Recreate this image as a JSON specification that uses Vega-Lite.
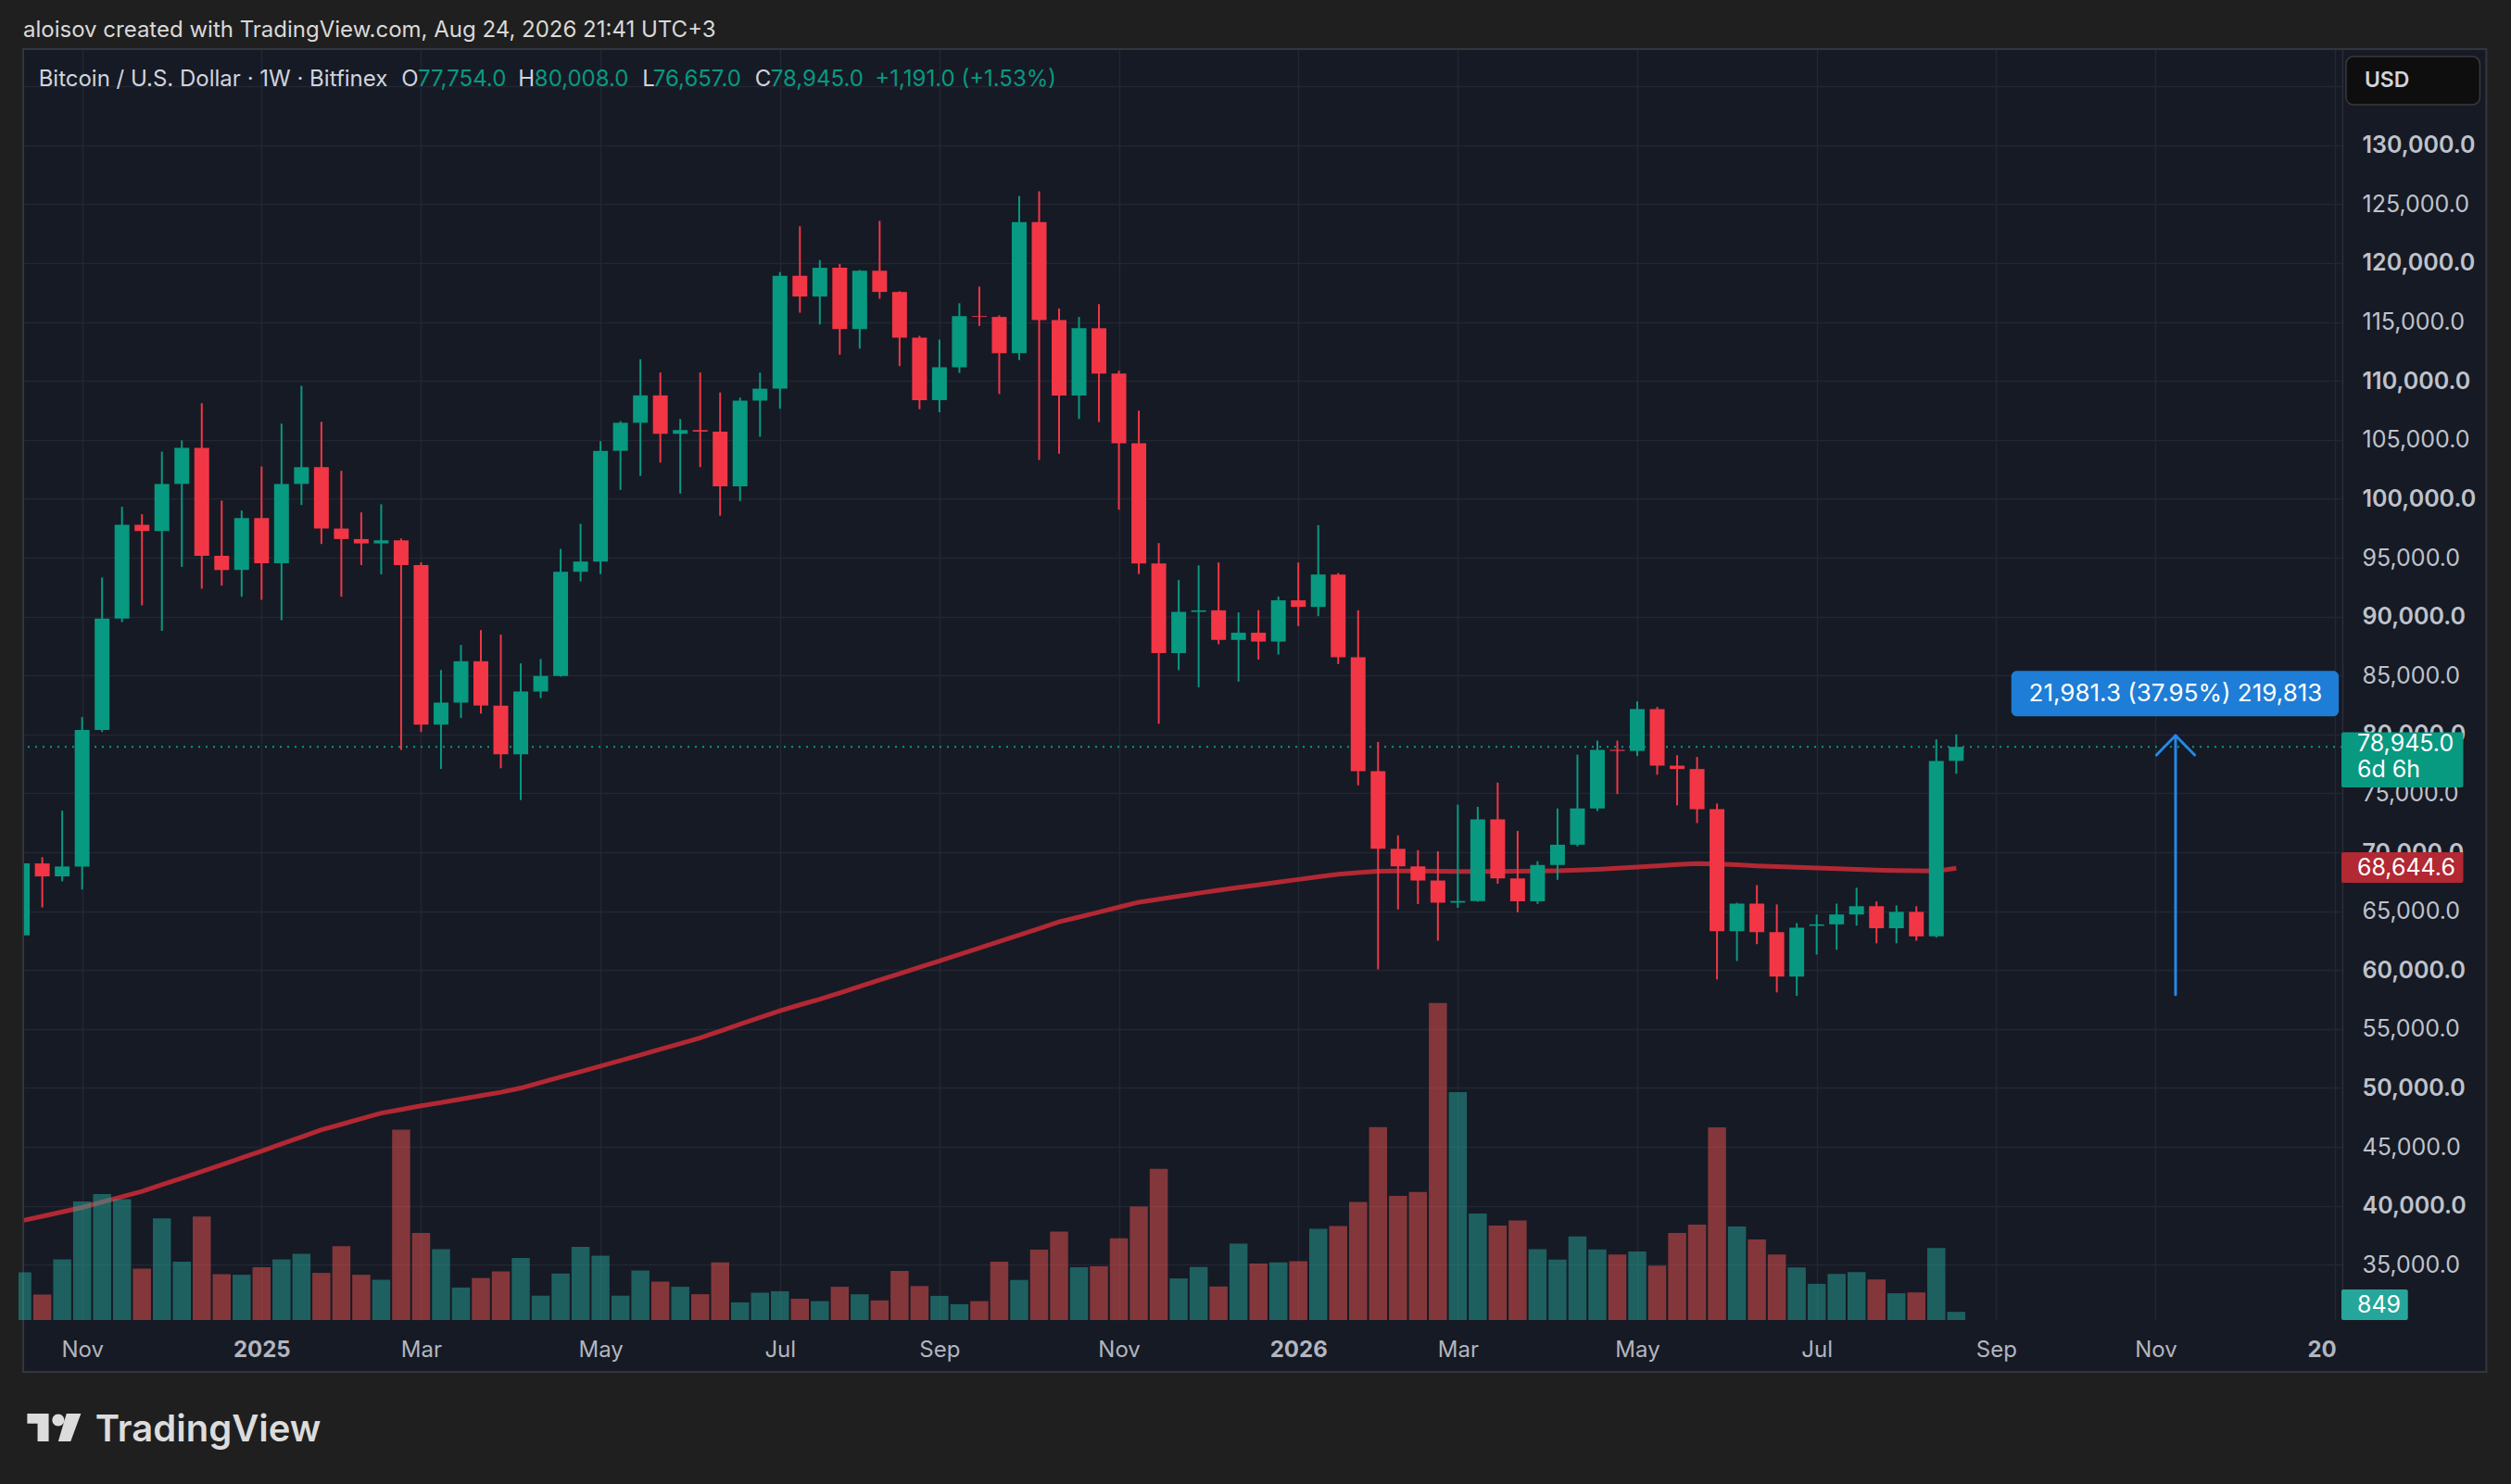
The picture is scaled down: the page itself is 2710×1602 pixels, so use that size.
{
  "$schema": "https://vega.github.io/schema/vega-lite/v6.json",
  "description": "BTC/USD weekly candles (Bitfinex) with volume and moving average, TradingView style",
  "width": 2508,
  "height": 1372,
  "autosize": {"type": "none"},
  "padding": {"left": 20, "top": 53, "right": 182, "bottom": 177},
  "background": "#161a25",
  "config": {"view": {"stroke": null}, "font": "Inter"},
  "datasets": {
    "candles": [
      {"d":"2024-10-14","o":62950,"h":69400,"l":62500,"c":69050,"v":4979,"ma":38740},
      {"d":"2024-10-21","o":69050,"h":69580,"l":65320,"c":67950,"v":2654,"ma":39110},
      {"d":"2024-10-28","o":67950,"h":73530,"l":67530,"c":68790,"v":6330,"ma":39480},
      {"d":"2024-11-04","o":68790,"h":81480,"l":66840,"c":80370,"v":12342,"ma":39850},
      {"d":"2024-11-11","o":80370,"h":93320,"l":80210,"c":89840,"v":13114,"ma":40310},
      {"d":"2024-11-18","o":89840,"h":99320,"l":89530,"c":97790,"v":12603,"ma":40760},
      {"d":"2024-11-25","o":97790,"h":98690,"l":90950,"c":97260,"v":5365,"ma":41220},
      {"d":"2024-12-02","o":97260,"h":104000,"l":88790,"c":101260,"v":10596,"ma":41780},
      {"d":"2024-12-09","o":101260,"h":104950,"l":94210,"c":104320,"v":6070,"ma":42340},
      {"d":"2024-12-16","o":104320,"h":108110,"l":92370,"c":95160,"v":10789,"ma":42900},
      {"d":"2024-12-23","o":95160,"h":99840,"l":92630,"c":93950,"v":4786,"ma":43480},
      {"d":"2024-12-30","o":93950,"h":99000,"l":91690,"c":98370,"v":4719,"ma":44060},
      {"d":"2025-01-06","o":98370,"h":102740,"l":91420,"c":94530,"v":5491,"ma":44640},
      {"d":"2025-01-13","o":94530,"h":106370,"l":89690,"c":101260,"v":6330,"ma":45240},
      {"d":"2025-01-20","o":101260,"h":109580,"l":99470,"c":102680,"v":6909,"ma":45840},
      {"d":"2025-01-27","o":102680,"h":106530,"l":96160,"c":97470,"v":4912,"ma":46440},
      {"d":"2025-02-03","o":97470,"h":102370,"l":91690,"c":96580,"v":7691,"ma":46910},
      {"d":"2025-02-10","o":96580,"h":98840,"l":94370,"c":96210,"v":4719,"ma":47390},
      {"d":"2025-02-17","o":96210,"h":99530,"l":93580,"c":96470,"v":4198,"ma":47860},
      {"d":"2025-02-24","o":96470,"h":96630,"l":78680,"c":94370,"v":19840,"ma":48170},
      {"d":"2025-03-03","o":94370,"h":94600,"l":80200,"c":80830,"v":9061,"ma":48480},
      {"d":"2025-03-10","o":80830,"h":85460,"l":77070,"c":82700,"v":7382,"ma":48760},
      {"d":"2025-03-17","o":82700,"h":87590,"l":81390,"c":86210,"v":3387,"ma":49050},
      {"d":"2025-03-24","o":86210,"h":88850,"l":81770,"c":82450,"v":4381,"ma":49340},
      {"d":"2025-03-31","o":82450,"h":88470,"l":77130,"c":78320,"v":5076,"ma":49630},
      {"d":"2025-04-07","o":78320,"h":86030,"l":74430,"c":83640,"v":6466,"ma":49990},
      {"d":"2025-04-14","o":83640,"h":86400,"l":83080,"c":84960,"v":2538,"ma":50450},
      {"d":"2025-04-21","o":84960,"h":95740,"l":84900,"c":93800,"v":4844,"ma":50920},
      {"d":"2025-04-28","o":93800,"h":97870,"l":92980,"c":94670,"v":7614,"ma":51380},
      {"d":"2025-05-05","o":94670,"h":104890,"l":93610,"c":104070,"v":6697,"ma":51850},
      {"d":"2025-05-12","o":104070,"h":106580,"l":100750,"c":106450,"v":2538,"ma":52320},
      {"d":"2025-05-19","o":106450,"h":111840,"l":101940,"c":108770,"v":5153,"ma":52800},
      {"d":"2025-05-26","o":108770,"h":110710,"l":103070,"c":105510,"v":4005,"ma":53280},
      {"d":"2025-06-02","o":105510,"h":106770,"l":100440,"c":105830,"v":3464,"ma":53760},
      {"d":"2025-06-09","o":105830,"h":110710,"l":102690,"c":105700,"v":2692,"ma":54250},
      {"d":"2025-06-16","o":105700,"h":109020,"l":98560,"c":101060,"v":6002,"ma":54820},
      {"d":"2025-06-23","o":101060,"h":108580,"l":99810,"c":108330,"v":1843,"ma":55400},
      {"d":"2025-06-30","o":108330,"h":110710,"l":105260,"c":109340,"v":2847,"ma":55970},
      {"d":"2025-07-07","o":109340,"h":119240,"l":107640,"c":118920,"v":3001,"ma":56540},
      {"d":"2025-07-14","o":118920,"h":123120,"l":115790,"c":117160,"v":2220,"ma":57050},
      {"d":"2025-07-21","o":117160,"h":120250,"l":114790,"c":119600,"v":1969,"ma":57530},
      {"d":"2025-07-28","o":119600,"h":119920,"l":112220,"c":114400,"v":3464,"ma":58070},
      {"d":"2025-08-04","o":114400,"h":119410,"l":112740,"c":119350,"v":2683,"ma":58620},
      {"d":"2025-08-11","o":119350,"h":123580,"l":116970,"c":117550,"v":2046,"ma":59160},
      {"d":"2025-08-18","o":117550,"h":117610,"l":111260,"c":113670,"v":5124,"ma":59700},
      {"d":"2025-08-25","o":113670,"h":113830,"l":107600,"c":108370,"v":3542,"ma":60240},
      {"d":"2025-09-01","o":108370,"h":113510,"l":107340,"c":111160,"v":2519,"ma":60780},
      {"d":"2025-09-08","o":111160,"h":116590,"l":110680,"c":115500,"v":1650,"ma":61320},
      {"d":"2025-09-15","o":115500,"h":118000,"l":114660,"c":115430,"v":1969,"ma":61870},
      {"d":"2025-09-22","o":115430,"h":115560,"l":108890,"c":112350,"v":6070,"ma":62420},
      {"d":"2025-09-29","o":112350,"h":125700,"l":111770,"c":123480,"v":4178,"ma":62980},
      {"d":"2025-10-06","o":123480,"h":126090,"l":103300,"c":115170,"v":7324,"ma":63530},
      {"d":"2025-10-13","o":115170,"h":116140,"l":103820,"c":108760,"v":9216,"ma":64090},
      {"d":"2025-10-20","o":108760,"h":115430,"l":106770,"c":114470,"v":5510,"ma":64500},
      {"d":"2025-10-27","o":114470,"h":116520,"l":106510,"c":110620,"v":5597,"ma":64920},
      {"d":"2025-11-03","o":110620,"h":110870,"l":99070,"c":104710,"v":8511,"ma":65340},
      {"d":"2025-11-10","o":104710,"h":107470,"l":93610,"c":94510,"v":11812,"ma":65760},
      {"d":"2025-11-17","o":94510,"h":96240,"l":80900,"c":86900,"v":15758,"ma":66010},
      {"d":"2025-11-24","o":86900,"h":93100,"l":85460,"c":90400,"v":4333,"ma":66270},
      {"d":"2025-12-01","o":90400,"h":94350,"l":84000,"c":90530,"v":5529,"ma":66530},
      {"d":"2025-12-08","o":90530,"h":94590,"l":87650,"c":88020,"v":3493,"ma":66780},
      {"d":"2025-12-15","o":88020,"h":90350,"l":84480,"c":88630,"v":7952,"ma":67010},
      {"d":"2025-12-22","o":88630,"h":90540,"l":86350,"c":87880,"v":5896,"ma":67230},
      {"d":"2025-12-29","o":87880,"h":91700,"l":86770,"c":91380,"v":6012,"ma":67460},
      {"d":"2026-01-05","o":91380,"h":94590,"l":89190,"c":90820,"v":6128,"ma":67690},
      {"d":"2026-01-12","o":90820,"h":97760,"l":90030,"c":93570,"v":9505,"ma":67920},
      {"d":"2026-01-19","o":93570,"h":93700,"l":85970,"c":86550,"v":9785,"ma":68130},
      {"d":"2026-01-26","o":86550,"h":90540,"l":75680,"c":76870,"v":12304,"ma":68280},
      {"d":"2026-02-02","o":76870,"h":79360,"l":60060,"c":70290,"v":20091,"ma":68380},
      {"d":"2026-02-09","o":70290,"h":71430,"l":65140,"c":68800,"v":12931,"ma":68410},
      {"d":"2026-02-16","o":68800,"h":70180,"l":65610,"c":67600,"v":13336,"ma":68400},
      {"d":"2026-02-23","o":67600,"h":70080,"l":62490,"c":65720,"v":33022,"ma":68380},
      {"d":"2026-03-02","o":65720,"h":74040,"l":65280,"c":65860,"v":23749,"ma":68360},
      {"d":"2026-03-09","o":65860,"h":73860,"l":65800,"c":72790,"v":11107,"ma":68360},
      {"d":"2026-03-16","o":72790,"h":75910,"l":67330,"c":67780,"v":9843,"ma":68370},
      {"d":"2026-03-23","o":67780,"h":71810,"l":64910,"c":65840,"v":10364,"ma":68380},
      {"d":"2026-03-30","o":65840,"h":69240,"l":65610,"c":68920,"v":7382,"ma":68400},
      {"d":"2026-04-06","o":68920,"h":73720,"l":67660,"c":70640,"v":6292,"ma":68430},
      {"d":"2026-04-13","o":70640,"h":78280,"l":70500,"c":73720,"v":8704,"ma":68480},
      {"d":"2026-04-20","o":73720,"h":79470,"l":73500,"c":78690,"v":7353,"ma":68550},
      {"d":"2026-04-27","o":78690,"h":79470,"l":74940,"c":78600,"v":6832,"ma":68650},
      {"d":"2026-05-04","o":78600,"h":82800,"l":78160,"c":82150,"v":7141,"ma":68750},
      {"d":"2026-05-11","o":82150,"h":82330,"l":76580,"c":77350,"v":5665,"ma":68850},
      {"d":"2026-05-18","o":77350,"h":78230,"l":73980,"c":77060,"v":9081,"ma":68950},
      {"d":"2026-05-25","o":77060,"h":78080,"l":72480,"c":73650,"v":9930,"ma":69030},
      {"d":"2026-06-01","o":73650,"h":74130,"l":59200,"c":63300,"v":20082,"ma":69000},
      {"d":"2026-06-08","o":63300,"h":65710,"l":60770,"c":65640,"v":9747,"ma":68930},
      {"d":"2026-06-15","o":65640,"h":67210,"l":62200,"c":63220,"v":8405,"ma":68850},
      {"d":"2026-06-22","o":63220,"h":65570,"l":58100,"c":59450,"v":6832,"ma":68780},
      {"d":"2026-06-29","o":59450,"h":63990,"l":57810,"c":63590,"v":5481,"ma":68720},
      {"d":"2026-07-06","o":63750,"h":64720,"l":61320,"c":63880,"v":3773,"ma":68660},
      {"d":"2026-07-13","o":63880,"h":65640,"l":61720,"c":64720,"v":4806,"ma":68600},
      {"d":"2026-07-20","o":64720,"h":66990,"l":63770,"c":65420,"v":4989,"ma":68540},
      {"d":"2026-07-27","o":65420,"h":65820,"l":62270,"c":63550,"v":4227,"ma":68490},
      {"d":"2026-08-03","o":63550,"h":65490,"l":62270,"c":64940,"v":2789,"ma":68450},
      {"d":"2026-08-10","o":64940,"h":65420,"l":62490,"c":62860,"v":2876,"ma":68420},
      {"d":"2026-08-17","o":62860,"h":79580,"l":62750,"c":77753,"v":7508,"ma":68400},
      {"d":"2026-08-24","o":77754,"h":80008,"l":76657,"c":78945,"v":849,"ma":68645}
    ]
  },
  "layer": [
    {
      "data": {"name": "candles"},
      "layer": [
        {
          "data": {"values": [{"p": 78945}]},
          "mark": {"type": "rule", "color": "#089981", "strokeWidth": 2, "strokeDash": [2, 6]},
          "encoding": {
            "y": {"field": "p", "type": "quantitative", "title": null, "scale": {"domain": [30300, 138160], "nice": false, "zero": false}}
          }
        },
        {
          "mark": {"type": "line", "color": "#b22833", "strokeWidth": 5, "clip": true},
          "encoding": {
            "x": {"field": "d", "type": "temporal", "title": null, "scale": {"type": "utc", "nice": false, "domain": [{"year": 2024, "month": 10, "date": 14, "hours": 7, "utc": true}, {"year": 2027, "month": 1, "date": 4, "hours": 22, "minutes": 30, "utc": true}]}},
            "y": {"field": "ma", "type": "quantitative", "title": null, "scale": {"domain": [30300, 138160], "nice": false, "zero": false}}
          }
        },
        {
          "mark": {"type": "rule", "strokeWidth": 2, "clip": true},
          "encoding": {
            "x": {
              "field": "d", "type": "temporal", "title": null,
              "scale": {"type": "utc", "nice": false, "domain": [{"year": 2024, "month": 10, "date": 14, "hours": 7, "utc": true}, {"year": 2027, "month": 1, "date": 4, "hours": 22, "minutes": 30, "utc": true}]},
              "axis": {
                "orient": "bottom",
                "values": [
                  {"year": 2024, "month": 11, "date": 4, "utc": true},
                  {"year": 2025, "month": 1, "date": 6, "utc": true},
                  {"year": 2025, "month": 3, "date": 3, "utc": true},
                  {"year": 2025, "month": 5, "date": 5, "utc": true},
                  {"year": 2025, "month": 7, "date": 7, "utc": true},
                  {"year": 2025, "month": 9, "date": 1, "utc": true},
                  {"year": 2025, "month": 11, "date": 3, "utc": true},
                  {"year": 2026, "month": 1, "date": 5, "utc": true},
                  {"year": 2026, "month": 3, "date": 2, "utc": true},
                  {"year": 2026, "month": 5, "date": 4, "utc": true},
                  {"year": 2026, "month": 7, "date": 6, "utc": true},
                  {"year": 2026, "month": 9, "date": 7, "utc": true},
                  {"year": 2026, "month": 11, "date": 2, "utc": true},
                  {"year": 2027, "month": 1, "date": 4, "utc": true}
                ],
                "labelExpr": "utcFormat(datum.value, '%m') == '01' ? utcFormat(datum.value, '%Y') : utcFormat(datum.value, '%b')",
                "labelFontWeight": {"condition": {"test": "utcFormat(datum.value, '%m') == '01'", "value": "bold"}, "value": "normal"},
                "labelFontSize": 24,
                "labelColor": "#b2b5be",
                "labelPadding": 20,
                "labelFlush": false,
                "labelOverlap": false,
                "ticks": false,
                "domain": false,
                "grid": true,
                "gridColor": "#232733",
                "gridWidth": 1.5
              }
            },
            "y": {
              "field": "l", "type": "quantitative", "title": null,
              "scale": {"domain": [30300, 138160], "nice": false, "zero": false},
              "axis": {
                "orient": "right",
                "values": [35000, 40000, 45000, 50000, 55000, 60000, 65000, 70000, 75000, 80000, 85000, 90000, 95000, 100000, 105000, 110000, 115000, 120000, 125000, 130000, 135000],
                "labelExpr": "datum.value > 130000 ? '' : format(datum.value, ',.1f')",
                "labelAlign": "left",
                "labelBaseline": "middle",
                "labelPadding": 21,
                "labelFontSize": 25,
                "labelFontWeight": {"condition": {"test": "datum.value % 10000 == 0", "value": 600}, "value": "normal"},
                "labelColor": "#bfc2ca",
                "labelOverlap": false,
                "ticks": false,
                "domain": true,
                "domainColor": "#2a2e39",
                "domainWidth": 1.5,
                "grid": true,
                "gridColor": "#232733",
                "gridWidth": 1.5
              }
            },
            "y2": {"field": "h"},
            "color": {"condition": {"test": "datum.c >= datum.o", "value": "#089981"}, "value": "#f23645"}
          }
        },
        {
          "mark": {"type": "bar", "width": 16, "clip": true},
          "encoding": {
            "x": {"field": "d", "type": "temporal", "title": null, "scale": {"type": "utc", "nice": false, "domain": [{"year": 2024, "month": 10, "date": 14, "hours": 7, "utc": true}, {"year": 2027, "month": 1, "date": 4, "hours": 22, "minutes": 30, "utc": true}]}},
            "y": {"field": "o", "type": "quantitative", "title": null, "scale": {"domain": [30300, 138160], "nice": false, "zero": false}},
            "y2": {"field": "c"},
            "color": {"condition": {"test": "datum.c >= datum.o", "value": "#089981"}, "value": "#f23645"}
          }
        },
        {
          "data": {"values": [{"d": "2026-09-12T08:00:00Z", "d2": "2027-01-05T07:00:00Z", "p": 81533, "p2": 85385}], "format": {"parse": {"d": "date", "d2": "date"}}},
          "mark": {"type": "rect", "color": "#1e7dd6", "cornerRadius": 6},
          "encoding": {
            "x": {"field": "d", "type": "temporal", "title": null, "scale": {"type": "utc", "nice": false, "domain": [{"year": 2024, "month": 10, "date": 14, "hours": 7, "utc": true}, {"year": 2027, "month": 1, "date": 4, "hours": 22, "minutes": 30, "utc": true}]}},
            "x2": {"field": "d2"},
            "y": {"field": "p", "type": "quantitative", "title": null, "scale": {"domain": [30300, 138160], "nice": false, "zero": false}},
            "y2": {"field": "p2"}
          }
        },
        {
          "data": {"values": [{"d": "2026-11-09T00:00:00Z", "p": 83459, "t": "21,981.3 (37.95%) 219,813"}], "format": {"parse": {"d": "date"}}},
          "mark": {"type": "text", "color": "#ffffff", "fontSize": 26, "align": "center", "baseline": "middle"},
          "encoding": {
            "x": {"field": "d", "type": "temporal", "title": null, "scale": {"type": "utc", "nice": false, "domain": [{"year": 2024, "month": 10, "date": 14, "hours": 7, "utc": true}, {"year": 2027, "month": 1, "date": 4, "hours": 22, "minutes": 30, "utc": true}]}},
            "y": {"field": "p", "type": "quantitative", "title": null, "scale": {"domain": [30300, 138160], "nice": false, "zero": false}},
            "text": {"field": "t"}
          }
        },
        {
          "data": {"values": [
            {"g": "shaft", "o": 1, "d": "2026-11-09T00:00:00Z", "p": 57922},
            {"g": "shaft", "o": 2, "d": "2026-11-09T00:00:00Z", "p": 79903},
            {"g": "head", "o": 1, "d": "2026-11-02T07:00:00Z", "p": 78252},
            {"g": "head", "o": 2, "d": "2026-11-09T00:00:00Z", "p": 79903},
            {"g": "head", "o": 3, "d": "2026-11-15T17:00:00Z", "p": 78252}
          ], "format": {"parse": {"d": "date"}}},
          "mark": {"type": "line", "color": "#2488e8", "strokeWidth": 3, "strokeCap": "round", "strokeJoin": "round"},
          "encoding": {
            "x": {"field": "d", "type": "temporal", "title": null, "scale": {"type": "utc", "nice": false, "domain": [{"year": 2024, "month": 10, "date": 14, "hours": 7, "utc": true}, {"year": 2027, "month": 1, "date": 4, "hours": 22, "minutes": 30, "utc": true}]}},
            "y": {"field": "p", "type": "quantitative", "title": null, "scale": {"domain": [30300, 138160], "nice": false, "zero": false}},
            "detail": {"field": "g"},
            "order": {"field": "o", "type": "quantitative"}
          }
        },
        {
          "data": {"values": [{"d": "2027-01-04T22:30:00Z", "d2": "2027-02-26T02:41:00Z", "p": 25896, "p2": 30300}], "format": {"parse": {"d": "date", "d2": "date"}}},
          "mark": {"type": "rect", "color": "#161a25"},
          "encoding": {
            "x": {"field": "d", "type": "temporal", "title": null, "scale": {"type": "utc", "nice": false, "domain": [{"year": 2024, "month": 10, "date": 14, "hours": 7, "utc": true}, {"year": 2027, "month": 1, "date": 4, "hours": 22, "minutes": 30, "utc": true}]}},
            "x2": {"field": "d2"},
            "y": {"field": "p", "type": "quantitative", "title": null, "scale": {"domain": [30300, 138160], "nice": false, "zero": false}},
            "y2": {"field": "p2"}
          }
        },
        {
          "data": {"values": [
            {"k": "price", "d": "2027-01-06T05:36:00Z", "d2": "2027-02-18T00:17:00Z", "p": 75503, "p2": 80182},
            {"k": "ma", "d": "2027-01-06T05:36:00Z", "d2": "2027-02-18T00:17:00Z", "p": 67406, "p2": 70000},
            {"k": "vol", "d": "2027-01-06T05:36:00Z", "d2": "2027-01-29T13:43:00Z", "p": 30300, "p2": 32893}
          ], "format": {"parse": {"d": "date", "d2": "date"}}},
          "mark": {"type": "rect", "cornerRadius": 2},
          "encoding": {
            "x": {"field": "d", "type": "temporal", "title": null, "scale": {"type": "utc", "nice": false, "domain": [{"year": 2024, "month": 10, "date": 14, "hours": 7, "utc": true}, {"year": 2027, "month": 1, "date": 4, "hours": 22, "minutes": 30, "utc": true}]}},
            "x2": {"field": "d2"},
            "y": {"field": "p", "type": "quantitative", "title": null, "scale": {"domain": [30300, 138160], "nice": false, "zero": false}},
            "y2": {"field": "p2"},
            "color": {"field": "k", "type": "nominal", "scale": {"domain": ["price", "ma", "vol"], "range": ["#089981", "#b22833", "#26a69a"]}, "legend": null}
          }
        },
        {
          "data": {"values": [
            {"d": "2027-01-11T17:48:00Z", "p": 79198, "t": "78,945.0"},
            {"d": "2027-01-11T17:48:00Z", "p": 76997, "t": "6d 6h"},
            {"d": "2027-01-11T17:48:00Z", "p": 68703, "t": "68,644.6"},
            {"d": "2027-01-11T17:48:00Z", "p": 31596, "t": "849"}
          ], "format": {"parse": {"d": "date"}}},
          "mark": {"type": "text", "color": "#ffffff", "fontSize": 25, "align": "left", "baseline": "middle"},
          "encoding": {
            "x": {"field": "d", "type": "temporal", "title": null, "scale": {"type": "utc", "nice": false, "domain": [{"year": 2024, "month": 10, "date": 14, "hours": 7, "utc": true}, {"year": 2027, "month": 1, "date": 4, "hours": 22, "minutes": 30, "utc": true}]}},
            "y": {"field": "p", "type": "quantitative", "title": null, "scale": {"domain": [30300, 138160], "nice": false, "zero": false}},
            "text": {"field": "t"}
          }
        },
        {
          "data": {"values": [
            {"d": "2024-09-01T00:00:00Z", "d2": "2027-06-01T00:00:00Z", "p": 138160, "p2": 170000},
            {"d": "2024-09-01T00:00:00Z", "d2": "2027-06-01T00:00:00Z", "p": 0, "p2": 25896},
            {"d": "2024-09-01T00:00:00Z", "d2": "2024-10-14T07:00:00Z", "p": 25896, "p2": 138160},
            {"d": "2027-02-26T02:41:00Z", "d2": "2027-06-01T00:00:00Z", "p": 25896, "p2": 138160}
          ], "format": {"parse": {"d": "date", "d2": "date"}}},
          "mark": {"type": "rect", "color": "#1f1f1f"},
          "encoding": {
            "x": {"field": "d", "type": "temporal", "title": null, "scale": {"type": "utc", "nice": false, "domain": [{"year": 2024, "month": 10, "date": 14, "hours": 7, "utc": true}, {"year": 2027, "month": 1, "date": 4, "hours": 22, "minutes": 30, "utc": true}]}},
            "x2": {"field": "d2"},
            "y": {"field": "p", "type": "quantitative", "title": null, "scale": {"domain": [30300, 138160], "nice": false, "zero": false}},
            "y2": {"field": "p2"}
          }
        },
        {
          "data": {"values": [{"d": "2024-10-14T07:00:00Z", "d2": "2027-02-26T02:41:00Z", "p": 25896, "p2": 138160}], "format": {"parse": {"d": "date", "d2": "date"}}},
          "mark": {"type": "rect", "fill": null, "fillOpacity": 0, "stroke": "#34363d", "strokeWidth": 2},
          "encoding": {
            "x": {"field": "d", "type": "temporal", "title": null, "scale": {"type": "utc", "nice": false, "domain": [{"year": 2024, "month": 10, "date": 14, "hours": 7, "utc": true}, {"year": 2027, "month": 1, "date": 4, "hours": 22, "minutes": 30, "utc": true}]}},
            "x2": {"field": "d2"},
            "y": {"field": "p", "type": "quantitative", "title": null, "scale": {"domain": [30300, 138160], "nice": false, "zero": false}},
            "y2": {"field": "p2"}
          }
        },
        {
          "data": {"values": [{"d": "2027-01-07T20:26:00Z", "d2": "2027-02-23T20:12:00Z", "p": 133443, "p2": 137531}], "format": {"parse": {"d": "date", "d2": "date"}}},
          "mark": {"type": "rect", "fill": "#0e0e0e", "stroke": "#3a3a3a", "strokeWidth": 1.5, "cornerRadius": 8},
          "encoding": {
            "x": {"field": "d", "type": "temporal", "title": null, "scale": {"type": "utc", "nice": false, "domain": [{"year": 2024, "month": 10, "date": 14, "hours": 7, "utc": true}, {"year": 2027, "month": 1, "date": 4, "hours": 22, "minutes": 30, "utc": true}]}},
            "x2": {"field": "d2"},
            "y": {"field": "p", "type": "quantitative", "title": null, "scale": {"domain": [30300, 138160], "nice": false, "zero": false}},
            "y2": {"field": "p2"}
          }
        },
        {
          "data": {"values": [{"d": "2027-01-14T08:00:00Z", "p": 135487, "t": "USD"}], "format": {"parse": {"d": "date"}}},
          "mark": {"type": "text", "color": "#d1d4dc", "fontSize": 23, "fontWeight": 600, "align": "left", "baseline": "middle"},
          "encoding": {
            "x": {"field": "d", "type": "temporal", "title": null, "scale": {"type": "utc", "nice": false, "domain": [{"year": 2024, "month": 10, "date": 14, "hours": 7, "utc": true}, {"year": 2027, "month": 1, "date": 4, "hours": 22, "minutes": 30, "utc": true}]}},
            "y": {"field": "p", "type": "quantitative", "title": null, "scale": {"domain": [30300, 138160], "nice": false, "zero": false}},
            "text": {"field": "t"}
          }
        },
        {
          "data": {"values": [{"d": "2024-10-14T07:00:00Z", "p": 139733, "t": "aloisov created with TradingView.com, Aug 24, 2026 21:41 UTC+3"}], "format": {"parse": {"d": "date"}}},
          "mark": {"type": "text", "color": "#d9d9d9", "fontSize": 24, "align": "left", "baseline": "middle"},
          "encoding": {
            "x": {"field": "d", "type": "temporal", "title": null, "scale": {"type": "utc", "nice": false, "domain": [{"year": 2024, "month": 10, "date": 14, "hours": 7, "utc": true}, {"year": 2027, "month": 1, "date": 4, "hours": 22, "minutes": 30, "utc": true}]}},
            "y": {"field": "p", "type": "quantitative", "title": null, "scale": {"domain": [30300, 138160], "nice": false, "zero": false}},
            "text": {"field": "t"}
          }
        },
        {
          "data": {"values": [
            {"d": "2024-10-19T16:50:00Z", "p": 135566, "t": "Bitcoin / U.S. Dollar · 1W · Bitfinex"},
            {"d": "2025-02-24T03:24:00Z", "p": 135566, "t": "O"},
            {"d": "2025-04-06T02:12:00Z", "p": 135566, "t": "H"},
            {"d": "2025-05-19T17:06:00Z", "p": 135566, "t": "L"},
            {"d": "2025-06-28T04:07:00Z", "p": 135566, "t": "C"}
          ], "format": {"parse": {"d": "date"}}},
          "mark": {"type": "text", "color": "#d1d4dc", "fontSize": 24, "align": "left", "baseline": "middle"},
          "encoding": {
            "x": {"field": "d", "type": "temporal", "title": null, "scale": {"type": "utc", "nice": false, "domain": [{"year": 2024, "month": 10, "date": 14, "hours": 7, "utc": true}, {"year": 2027, "month": 1, "date": 4, "hours": 22, "minutes": 30, "utc": true}]}},
            "y": {"field": "p", "type": "quantitative", "title": null, "scale": {"domain": [30300, 138160], "nice": false, "zero": false}},
            "text": {"field": "t"}
          }
        },
        {
          "data": {"values": [
            {"d": "2025-03-01T20:55:00Z", "p": 135566, "t": "77,754.0"},
            {"d": "2025-04-11T19:12:00Z", "p": 135566, "t": "80,008.0"},
            {"d": "2025-05-23T10:36:00Z", "p": 135566, "t": "76,657.0"},
            {"d": "2025-07-03T18:02:00Z", "p": 135566, "t": "78,945.0"},
            {"d": "2025-08-09T08:41:00Z", "p": 135566, "t": "+1,191.0 (+1.53%)"}
          ], "format": {"parse": {"d": "date"}}},
          "mark": {"type": "text", "color": "#089981", "fontSize": 24, "align": "left", "baseline": "middle"},
          "encoding": {
            "x": {"field": "d", "type": "temporal", "title": null, "scale": {"type": "utc", "nice": false, "domain": [{"year": 2024, "month": 10, "date": 14, "hours": 7, "utc": true}, {"year": 2027, "month": 1, "date": 4, "hours": 22, "minutes": 30, "utc": true}]}},
            "y": {"field": "p", "type": "quantitative", "title": null, "scale": {"domain": [30300, 138160], "nice": false, "zero": false}},
            "text": {"field": "t"}
          }
        },
        {
          "data": {"values": [{"d": "2024-10-25T03:30:00Z", "p": 21179}], "format": {"parse": {"d": "date"}}},
          "mark": {
            "type": "point", "filled": true, "color": "#dcdcdc", "opacity": 1, "strokeWidth": 0, "size": 3364,
            "shape": "M-1,-0.517L-0.2,-0.517L-0.2,0.517L-0.614,0.517L-0.614,-0.148L-1,-0.148Z M-0.069,-0.276A0.224,0.224 0 1,0 0.379,-0.276A0.224,0.224 0 1,0 -0.069,-0.276Z M0.462,-0.517L1,-0.517L0.617,0.517L0.155,0.517Z"
          },
          "encoding": {
            "x": {"field": "d", "type": "temporal", "title": null, "scale": {"type": "utc", "nice": false, "domain": [{"year": 2024, "month": 10, "date": 14, "hours": 7, "utc": true}, {"year": 2027, "month": 1, "date": 4, "hours": 22, "minutes": 30, "utc": true}]}},
            "y": {"field": "p", "type": "quantitative", "title": null, "scale": {"domain": [30300, 138160], "nice": false, "zero": false}}
          }
        },
        {
          "data": {"values": [{"d": "2024-11-08T13:30:00Z", "p": 20000, "t": "TradingView"}], "format": {"parse": {"d": "date"}}},
          "mark": {"type": "text", "color": "#dcdcdc", "fontSize": 40, "fontWeight": 600, "align": "left", "baseline": "alphabetic"},
          "encoding": {
            "x": {"field": "d", "type": "temporal", "title": null, "scale": {"type": "utc", "nice": false, "domain": [{"year": 2024, "month": 10, "date": 14, "hours": 7, "utc": true}, {"year": 2027, "month": 1, "date": 4, "hours": 22, "minutes": 30, "utc": true}]}},
            "y": {"field": "p", "type": "quantitative", "title": null, "scale": {"domain": [30300, 138160], "nice": false, "zero": false}},
            "text": {"field": "t"}
          }
        }
      ]
    },
    {
      "data": {"name": "candles"},
      "mark": {"type": "bar", "width": 19.5, "clip": true, "opacity": 0.5},
      "encoding": {
        "x": {"field": "d", "type": "temporal", "title": null, "scale": {"type": "utc", "nice": false, "domain": [{"year": 2024, "month": 10, "date": 14, "hours": 7, "utc": true}, {"year": 2027, "month": 1, "date": 4, "hours": 22, "minutes": 30, "utc": true}]}},
        "y": {"field": "v", "type": "quantitative", "scale": {"domain": [0, 132398], "nice": false}, "axis": null},
        "color": {"condition": {"test": "datum.c >= datum.o", "value": "#26a69a"}, "value": "#ef5350"}
      }
    }
  ],
  "resolve": {"scale": {"y": "independent"}}
}
